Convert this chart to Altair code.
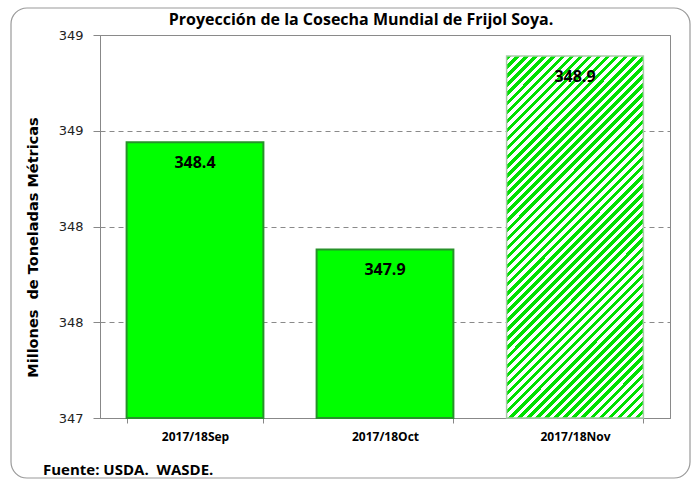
import altair as alt
import pandas as pd

categories = ["2017/18Sep", "2017/18Oct", "2017/18Nov"]
values = [348.44, 347.88, 348.89]
labels = ["348.4", "347.9", "348.9"]
kinds = ["solid", "solid", "hatched"]
y_base = 347

title_text = "Proyección de la Cosecha Mundial de Frijol Soya."
y_title = "Millones\u00a0 de Toneladas Métricas"
source_text = "Fuente: USDA.\u00a0 WASDE."

df = pd.DataFrame({"cat": categories, "val": values, "label": labels, "kind": kinds})

W, H = 570, 383
FONT_C = "Liberation Sans Narrow, Open Sans, sans-serif"

# diagonal stripe gradient (approximates the hatch pattern)
bw, bh = 137.0, 362.0
t = (bw + bh) / (bw * bw + bh * bh)
x2g, y2g = bw * t, bh * t
n_str = 55
stops = []
for i in range(n_str):
    a = i / n_str
    m = (i + 0.5) / n_str
    b = (i + 1) / n_str
    stops += [alt.GradientStop(offset=a, color="#00e000"),
              alt.GradientStop(offset=m, color="#00e000"),
              alt.GradientStop(offset=m, color="#ffffff"),
              alt.GradientStop(offset=b, color="#ffffff")]
hatch = alt.Gradient(gradient="linear", stops=stops, x1=0, y1=0, x2=x2g, y2=y2g)

xenc = alt.X("cat:N", sort=categories, title=None,
             scale=alt.Scale(paddingInner=0.28, paddingOuter=0.14),
             axis=alt.Axis(labelAngle=0, labelFont=FONT_C, labelFontWeight="bold",
                           labelFontSize=12, labelColor="#000", labelPadding=8,
                           tickBand="extent", tickSize=5, tickColor="#888",
                           domainColor="#888", grid=False))
yenc = alt.Y("val:Q", title=y_title,
             scale=alt.Scale(domain=[347, 349], nice=False, zero=False),
             axis=alt.Axis(values=[347, 347.5, 348, 348.5, 349], format=".0f",
                           labelFont="DejaVu Sans", labelFontSize=13, labelColor="#222",
                           labelPadding=10, tickSize=7, tickColor="#888",
                           domainColor="#888",
                           grid=True, gridColor="#8a8a8a", gridDash=[5, 4],
                           titleFont="DejaVu Sans", titleFontWeight="bold", titleFontSize=14.5,
                           titleColor="#000", titleAngle=-90, titleX=-67, titleY=212,
                           titleAlign="center", titleBaseline="middle"))

frame = alt.Chart(alt.Data(values=[{"a": 1}])).mark_rect(
    fillOpacity=0, stroke="#9a9a9a", strokeWidth=1.2, cornerRadius=16, clip=False
).encode(x=alt.value(-89), x2=alt.value(590), y=alt.value(-27), y2=alt.value(443))

base = alt.Chart(df)

solid = base.transform_filter(alt.datum.kind == "solid").mark_bar(
    fill="#00ff00", stroke="#27922a", strokeWidth=2
).encode(x=xenc, y=yenc, y2=alt.datum(y_base))

hatched = base.transform_filter(alt.datum.kind == "hatched").mark_bar(
    fill=hatch, stroke="#a8cca8", strokeWidth=1.5
).encode(x=xenc, y=yenc, y2=alt.datum(y_base))

txt = base.mark_text(font=FONT_C, fontWeight="bold", fontSize=16, color="#000",
                     baseline="middle", dy=21).encode(
    x=alt.X("cat:N", sort=categories), y="val:Q", text="label:N")

title = alt.Chart(alt.Data(values=[{"t": title_text}])).mark_text(
    font=FONT_C, fontWeight="bold", fontSize=16, color="#000", baseline="middle"
).encode(x=alt.value(261), y=alt.value(-15), text="t:N")

src = alt.Chart(alt.Data(values=[{"t": source_text}])).mark_text(
    font=FONT_C, fontWeight="bold", fontSize=15, color="#000", align="left",
    baseline="middle"
).encode(x=alt.value(-57), y=alt.value(435), text="t:N")

chart = alt.layer(frame, solid, hatched, txt, title, src).properties(
    width=W, height=H,
    autosize=alt.AutoSizeParams(type="none"),
    padding={"left": 100, "top": 35, "right": 27, "bottom": 61},
    background="white",
).configure_view(stroke="#8a8a8a", strokeWidth=1)

chart.save("out.html", embed_options={"renderer": "svg", "actions": False})
